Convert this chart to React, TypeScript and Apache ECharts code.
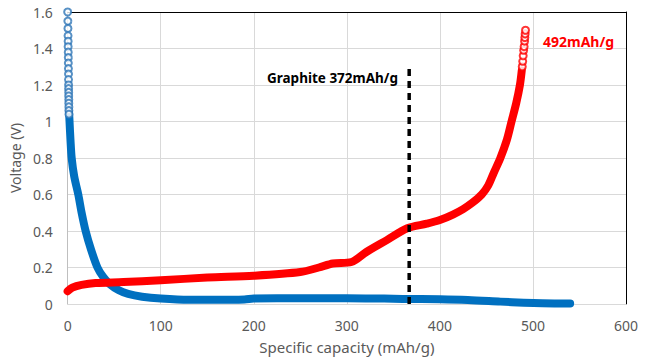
import React, { useEffect, useRef } from "react";
import * as echarts from "echarts";

// Discharge (blue) – dense part
const blueX = [1.5, 2, 3, 4.3, 7, 11.4, 15, 19.3, 25, 32, 38, 45, 55, 65, 80, 100, 130, 160, 190, 200, 250, 300, 340, 360, 400, 430, 465, 490, 510, 540];
const blueY = [1.05, 1.0, 0.9, 0.8, 0.7, 0.6, 0.5, 0.4, 0.3, 0.2, 0.15, 0.11, 0.075, 0.055, 0.04, 0.03, 0.023, 0.023, 0.025, 0.03, 0.031, 0.031, 0.03, 0.028, 0.026, 0.022, 0.013, 0.007, 0.004, 0.003];
// Discharge (blue) – sparse hollow markers at the start
const blueTopX = [0, 0.2, 0.3, 0.4, 0.5, 0.5, 0.6, 0.7, 0.7, 0.8, 0.9, 0.9, 1.0, 1.0, 1.1, 1.1, 1.2, 1.2, 1.3, 1.3, 1.4];
const blueTopY = [1.6, 1.55, 1.51, 1.47, 1.44, 1.41, 1.38, 1.35, 1.32, 1.29, 1.26, 1.23, 1.2, 1.18, 1.16, 1.14, 1.12, 1.1, 1.08, 1.06, 1.04];
// Charge (red) – dense part
const redX = [0, 5, 15, 30, 60, 100, 150, 200, 250, 270, 285, 305, 321, 343, 365, 386, 400, 414, 425, 435, 445, 452, 458, 465, 472, 477, 482, 486, 488];
const redY = [0.07, 0.09, 0.105, 0.115, 0.12, 0.13, 0.145, 0.155, 0.175, 0.2, 0.222, 0.23, 0.285, 0.35, 0.415, 0.44, 0.46, 0.49, 0.52, 0.555, 0.6, 0.65, 0.72, 0.8, 0.9, 1.0, 1.1, 1.2, 1.28];
// Charge (red) – hollow markers at the end
const redTopX = [488.5, 489, 489.5, 490, 490.5, 491, 491.3, 491.6, 492];
const redTopY = [1.3, 1.33, 1.36, 1.39, 1.41, 1.44, 1.46, 1.48, 1.5];
// Graphite reference line
const graphiteX = [367, 367];
const graphiteY = [0, 1.31];

const xTicks = [0, 100, 200, 300, 400, 500, 600];
const yTicks = [0, 0.2, 0.4, 0.6, 0.8, 1, 1.2, 1.4, 1.6];

const zip = (xs: number[], ys: number[]) => xs.map((x, i) => [x, ys[i]]);

export default function App() {
  const ref = useRef<HTMLDivElement>(null);
  useEffect(() => {
    if (!ref.current) return;
    const chart = echarts.init(ref.current, null, { renderer: "svg" });
    const font = "Noto Sans";
    const grey = "#595959";
    chart.setOption({
      animation: false,
      backgroundColor: "#ffffff",
      grid: { left: 67, right: 41, top: 12, bottom: 60 },
      xAxis: [
        {
          type: "value",
          min: xTicks[0],
          max: xTicks[xTicks.length - 1],
          interval: 100,
          name: "Specific capacity (mAh/g)",
          nameLocation: "middle",
          nameGap: 35,
          nameTextStyle: { color: grey, fontSize: 15, fontFamily: font },
          axisLine: { onZero: false, lineStyle: { color: "#d9d9d9", width: 1 } },
          axisTick: { show: false },
          axisLabel: { color: grey, fontSize: 14, fontFamily: font, margin: 14 },
          splitLine: { lineStyle: { color: "#d9d9d9", width: 1 } },
        },
        {
          type: "value",
          position: "top",
          min: 0,
          max: 600,
          axisLine: { show: true, onZero: false, lineStyle: { color: "#000", width: 1 } },
          axisTick: { show: false },
          axisLabel: { show: false },
          splitLine: { show: false },
        },
      ],
      yAxis: [
        {
          type: "value",
          min: yTicks[0],
          max: yTicks[yTicks.length - 1],
          interval: 0.2,
          name: "Voltage (V)",
          nameLocation: "middle",
          nameGap: 42,
          nameTextStyle: { color: grey, fontSize: 14, fontFamily: font },
          axisLine: { show: true, onZero: false, lineStyle: { color: "#bfbfbf", width: 1 } },
          axisTick: { show: false },
          axisLabel: {
            color: grey,
            fontSize: 14,
            fontFamily: font,
            margin: 15,
            formatter: (v: number) => String(Math.round(v * 10) / 10),
          },
          splitLine: { lineStyle: { color: "#d9d9d9", width: 1 } },
        },
        {
          type: "value",
          position: "right",
          min: 0,
          max: 1.6,
          axisLine: { show: true, onZero: false, lineStyle: { color: "#000", width: 1 } },
          axisTick: { show: false },
          axisLabel: { show: false },
          splitLine: { show: false },
        },
      ],
      series: [
        {
          type: "line",
          data: zip(blueX, blueY),
          smooth: 0.3,
          symbol: "none",
          lineStyle: { color: "#0070C0", width: 8, cap: "round", join: "round" },
          z: 2,
        },
        {
          type: "scatter",
          data: zip(blueTopX, blueTopY),
          symbol: "emptyCircle",
          symbolSize: 7,
          clip: false,
          itemStyle: { color: "#2E75B6", borderColor: "#2E75B6", borderWidth: 1.3 },
          z: 2,
        },
        {
          type: "line",
          data: zip(redX, redY),
          smooth: 0.3,
          symbol: "none",
          lineStyle: { color: "#FF0000", width: 8, cap: "round", join: "round" },
          z: 3,
        },
        {
          type: "scatter",
          data: zip(redTopX, redTopY),
          symbol: "emptyCircle",
          symbolSize: 7,
          clip: false,
          itemStyle: { color: "#FF0000", borderColor: "#FF0000", borderWidth: 1.8 },
          z: 3,
        },
        {
          type: "line",
          data: zip(graphiteX, graphiteY),
          symbol: "none",
          lineStyle: { color: "#000000", width: 3.5, type: [7, 5] },
          z: 4,
        },
      ],
      graphic: [
        {
          type: "text",
          left: 267,
          top: 71,
          style: {
            text: "Graphite 372mAh/g",
            fill: "#000000",
            font: `bold 13.5px "${font}"`,
          },
          z: 10,
        },
        {
          type: "text",
          left: 543,
          top: 34,
          style: {
            text: "492mAh/g",
            fill: "#FF0000",
            font: `bold 14px "${font}"`,
          },
          z: 10,
        },
      ],
    });
    return () => chart.dispose();
  }, []);
  return (
    <div
      ref={ref}
      style={{ position: "fixed", left: 0, top: 0, width: 667, height: 364 }}
    />
  );
}
